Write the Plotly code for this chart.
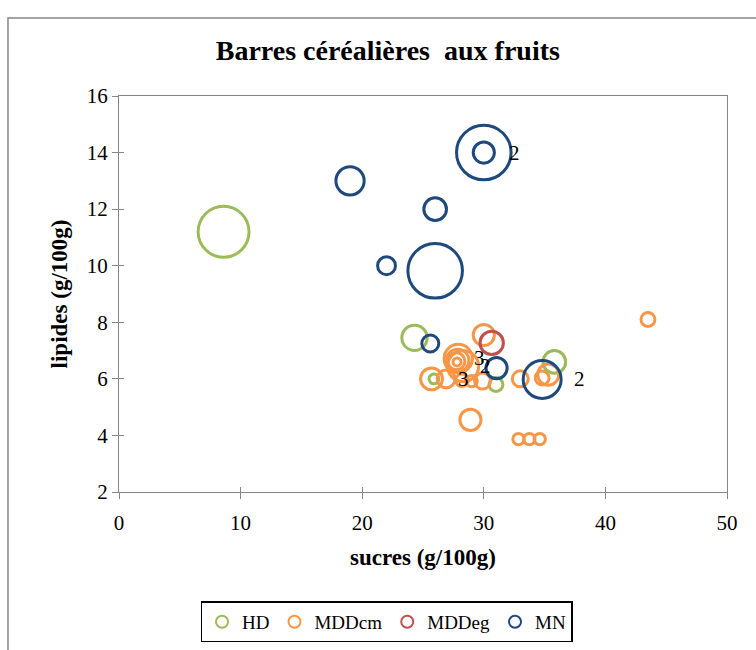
import plotly.graph_objects as go

# Barres céréalières aux fruits : sucres vs lipides (g/100g), taille = poids de la bulle
hd_sucres = [8.6, 24.3, 35.8, 31.0, 25.9]
hd_lipides = [11.2, 7.45, 6.6, 5.8, 6.0]
hd_taille = [81, 20, 16, 6, 3]
hd_labels = ["", "", "", "", ""]

mddcm_sucres = [43.5, 30.0, 27.9, 28.3, 27.85, 27.75, 27.8, 25.7, 26.9, 28.2, 29.0, 29.9,
                33.0, 34.8, 35.3, 28.9, 32.85, 33.75, 34.6]
mddcm_lipides = [8.1, 7.55, 6.72, 6.45, 6.65, 6.62, 6.6, 6.0, 6.0, 5.95, 5.92, 5.92,
                 6.0, 6.03, 6.15, 4.55, 3.87, 3.87, 3.87]
mddcm_taille = [6, 14, 25, 30, 16, 9, 2, 15, 10, 5, 4, 8,
                8, 6, 14, 14, 4, 4, 4]
mddcm_labels = ["", "", "3", "2", "", "", "", "", "3", "", "", "",
                "", "", "", "", "", "", ""]

mddeg_sucres = [30.65]
mddeg_lipides = [7.27]
mddeg_taille = [17]
mddeg_labels = [""]

mn_sucres = [30.0, 30.0, 19.0, 26.0, 22.0, 26.0, 25.6, 31.05, 34.8]
mn_lipides = [14.0, 14.0, 13.0, 12.0, 10.0, 9.82, 7.25, 6.38, 5.98]
mn_taille = [93, 14, 25, 16, 10, 93, 9, 14, 45]
mn_labels = ["2", "", "", "", "", "", "", "", "2"]

x_ticks = [0, 10, 20, 30, 40, 50]
y_ticks = [2, 4, 6, 8, 10, 12, 14, 16]

SERIF = "Liberation Serif"
AXIS_GREY = "#868686"
SIZEREF = 100 / 40 ** 2

series = [
    ("HD", hd_sucres, hd_lipides, hd_taille, hd_labels, "#9BBB59", "x", "y"),
    ("MDDcm", mddcm_sucres, mddcm_lipides, mddcm_taille, mddcm_labels, "#F79646", "x", "y"),
    ("MDDeg", mddeg_sucres, mddeg_lipides, mddeg_taille, mddeg_labels, "#C0504D", "x", "y"),
    # MN sits on the overlay axes so it is painted above the other series
    ("MN", mn_sucres, mn_lipides, mn_taille, mn_labels, "#1F497D", "x2", "y2"),
]

fig = go.Figure()
annotations = []
for name, xs, ys, sizes, labels, color, xa, ya in series:
    fig.add_trace(go.Scatter(
        x=xs, y=ys, name=name, mode="markers",
        xaxis=xa, yaxis=ya,
        marker=dict(size=sizes, sizemode="area", sizeref=SIZEREF,
                    opacity=1, color="rgba(0,0,0,0)",
                    line=dict(color=color, width=3)),
        cliponaxis=False,
    ))
    # count labels to the right of their bubble
    for x, y, s, lab in zip(xs, ys, sizes, labels):
        if not lab:
            continue
        radius = (s / SIZEREF) ** 0.5 / 2
        annotations.append(dict(
            x=x, y=y, xref="x", yref="y", text=lab, showarrow=False,
            xanchor="left", yanchor="middle",
            xshift=radius + 4 + (12 if 12 < radius < 16 else 0),
            font=dict(family=SERIF, size=21, color="#000000"),
        ))

tick_font = dict(family=SERIF, size=21, color="#000000")
axis_common = dict(
    showgrid=False, zeroline=False,
    showline=True, linecolor=AXIS_GREY, linewidth=1, mirror=True,
    ticks="outside", ticklen=6, tickcolor=AXIS_GREY, tickwidth=1,
    tickfont=tick_font,
)
overlay_common = dict(
    showgrid=False, zeroline=False, showline=False,
    ticks="inside", ticklen=5, tickcolor=AXIS_GREY, tickwidth=1,
    showticklabels=False,
)

fig.update_layout(
    width=756, height=650,
    margin=dict(l=119, r=29, t=96, b=158, autoexpand=False),
    paper_bgcolor="white", plot_bgcolor="white",
    title=dict(text="<b>Barres céréalières  aux fruits</b>",
               x=0.513, xref="container", xanchor="center",
               y=0.923, yref="container", yanchor="middle",
               font=dict(family=SERIF, size=28, color="#000000")),
    xaxis=dict(range=[0, 50], tickvals=x_ticks, ticklabelstandoff=6,
               title=dict(text="<b>sucres (g/100g)</b>", standoff=14,
                          font=dict(family=SERIF, size=23, color="#000000")),
               **axis_common),
    yaxis=dict(range=[2, 16], tickvals=y_ticks,
               title=dict(text="<b>lipides (g/100g)</b>", standoff=12,
                          font=dict(family=SERIF, size=23, color="#000000")),
               **axis_common),
    xaxis2=dict(overlaying="x", anchor="y", range=[0, 50], tickvals=x_ticks,
                side="bottom", **overlay_common),
    yaxis2=dict(overlaying="y", anchor="x", range=[2, 16], tickvals=y_ticks,
                side="left", **overlay_common),
    annotations=annotations,
    showlegend=True,
    legend=dict(orientation="h", x=0.44, xanchor="center",
                y=-0.328, yanchor="middle",
                bordercolor="#000000", borderwidth=1.5,
                itemsizing="constant", itemwidth=30,
                font=dict(family=SERIF, size=19, color="#000000")),
    shapes=[dict(type="rect", xref="paper", yref="paper",
                 x0=-0.1826, x1=1.08, y0=1.197, y1=-0.45,
                 line=dict(color=AXIS_GREY, width=1.5), layer="below")],
)

fig.write_html("out.html")
